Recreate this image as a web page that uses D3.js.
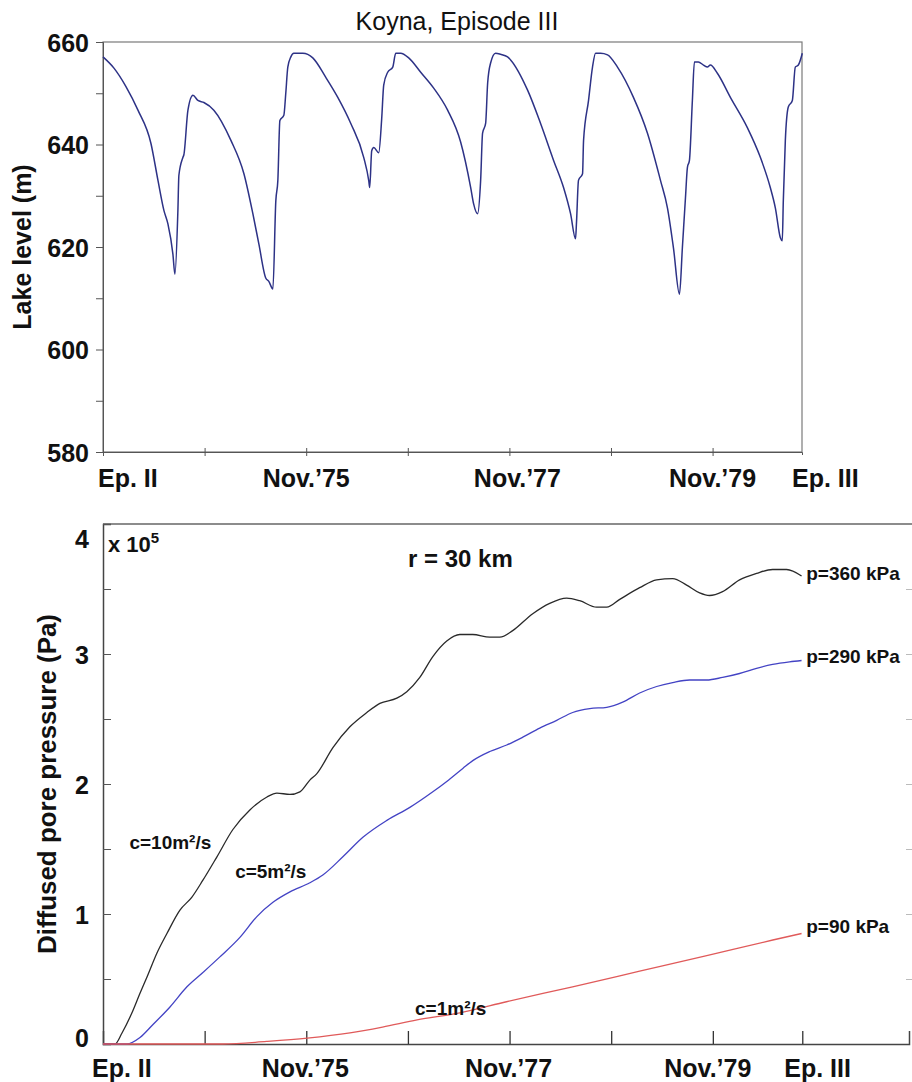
<!DOCTYPE html>
<html>
<head>
<meta charset="utf-8">
<script src="https://cdn.jsdelivr.net/npm/d3@7"></script>
<style>
  body { margin: 0; background: #fff; }
  text { font-family: "Liberation Sans", Arial, sans-serif; fill: #111; }
</style>
</head>
<body>
<svg id="chart" width="912" height="1082"></svg>
<script>
// time is in years after Ep. II; lake level in m; pore pressure in 10^5 Pa
const lakeLevel = [
  [0, 657.1], [0.108, 654.9], [0.226, 651.3], [0.344, 646.7], [0.472, 640.2], [0.541, 633.0],
  [0.600, 627.1], [0.639, 624.5], [0.688, 618.6], [0.708, 614.7], [0.737, 627.0], [0.747, 634.0],
  [0.787, 637.5], [0.796, 638.0], [0.836, 646.7], [0.885, 649.6], [0.934, 648.6], [0.993, 648.2],
  [1.091, 646.7], [1.259, 640.8], [1.387, 634.3], [1.475, 626.5], [1.534, 620.6], [1.603, 613.9],
  [1.632, 613.3], [1.672, 611.8], [1.701, 629.0], [1.721, 633.0], [1.741, 644.7], [1.780, 645.7],
  [1.799, 650.0], [1.819, 655.1], [1.849, 657.1], [1.878, 657.8], [1.967, 657.8], [2.065, 656.9],
  [2.193, 653.1], [2.311, 649.2], [2.439, 644.1], [2.566, 637.5], [2.616, 632.9], [2.625, 631.6],
  [2.645, 638.8], [2.665, 639.4], [2.714, 638.4], [2.743, 645.0], [2.763, 651.6], [2.802, 654.1],
  [2.852, 655.1], [2.881, 657.8], [2.930, 657.8], [3.009, 656.9], [3.127, 654.1], [3.255, 651.0],
  [3.392, 646.7], [3.520, 640.5], [3.619, 631.6], [3.648, 628.4], [3.687, 626.5], [3.717, 633.0],
  [3.736, 642.2], [3.766, 644.1], [3.786, 652.0], [3.815, 655.9], [3.864, 657.8], [3.913, 657.6],
  [3.982, 657.1], [4.012, 656.5], [4.179, 650.6], [4.307, 644.1], [4.435, 636.9], [4.533, 631.6],
  [4.602, 626.5], [4.651, 621.6], [4.661, 625.0], [4.680, 633.0], [4.720, 634.3], [4.730, 640.8],
  [4.779, 648.6], [4.818, 655.1], [4.848, 657.8], [4.897, 657.8], [4.966, 657.5], [5.064, 655.1],
  [5.221, 649.2], [5.359, 642.2], [5.487, 633.0], [5.556, 627.6], [5.615, 619.8], [5.674, 610.8],
  [5.703, 620.0], [5.733, 629.6], [5.752, 635.5], [5.772, 636.9], [5.801, 648.6], [5.821, 656.1],
  [5.860, 656.1], [5.910, 655.5], [5.949, 655.1], [5.978, 655.5], [6.047, 653.9], [6.175, 649.2],
  [6.342, 643.3], [6.470, 637.5], [6.568, 631.6], [6.618, 627.6], [6.667, 621.8], [6.686, 621.2],
  [6.696, 629.0], [6.716, 640.8], [6.745, 647.3], [6.785, 648.6], [6.814, 655.1], [6.844, 655.5],
  [6.883, 657.8]
];

const pressureC10 = [
  [0, 0], [0.118, 0], [0.187, 0.085], [0.285, 0.24], [0.364, 0.39], [0.433, 0.515], [0.531, 0.70],
  [0.629, 0.85], [0.757, 1.03], [0.875, 1.13], [0.983, 1.26], [1.121, 1.44], [1.278, 1.65],
  [1.445, 1.80], [1.613, 1.90], [1.711, 1.93], [1.839, 1.92], [1.937, 1.94], [2.035, 2.03],
  [2.104, 2.08], [2.262, 2.28], [2.429, 2.44], [2.596, 2.55], [2.724, 2.62], [2.891, 2.66],
  [2.989, 2.71], [3.117, 2.82], [3.245, 2.98], [3.382, 3.10], [3.510, 3.15], [3.638, 3.15],
  [3.805, 3.13], [3.904, 3.13], [4.031, 3.18], [4.228, 3.31], [4.395, 3.39], [4.562, 3.43],
  [4.690, 3.41], [4.857, 3.36], [4.956, 3.36], [5.084, 3.42], [5.280, 3.51], [5.447, 3.57],
  [5.605, 3.58], [5.742, 3.53], [5.870, 3.47], [5.968, 3.45], [6.096, 3.48], [6.263, 3.57],
  [6.430, 3.62], [6.588, 3.65], [6.726, 3.65], [6.873, 3.60]
];

const pressureC5 = [
  [0, 0], [0.236, 0], [0.364, 0.05], [0.492, 0.15], [0.659, 0.285], [0.826, 0.44], [0.983, 0.55],
  [1.150, 0.67], [1.347, 0.82], [1.514, 0.98], [1.672, 1.09], [1.839, 1.17], [2.035, 1.24],
  [2.163, 1.30], [2.360, 1.44], [2.557, 1.59], [2.793, 1.72], [3.019, 1.82], [3.245, 1.94],
  [3.382, 2.02], [3.540, 2.12], [3.638, 2.18], [3.805, 2.25], [3.972, 2.30], [4.130, 2.36],
  [4.297, 2.43], [4.464, 2.49], [4.621, 2.55], [4.789, 2.58], [4.956, 2.59], [5.113, 2.63],
  [5.280, 2.70], [5.447, 2.75], [5.605, 2.78], [5.772, 2.80], [5.939, 2.80], [6.096, 2.82],
  [6.263, 2.85], [6.430, 2.89], [6.588, 2.92], [6.755, 2.94], [6.873, 2.95]
];

const pressureC1 = [
  [0, 0], [1.18, 0], [1.61, 0.02], [2.01, 0.045], [2.43, 0.085], [2.75, 0.13], [3.09, 0.185],
  [3.51, 0.24], [3.97, 0.325], [4.62, 0.44], [5.28, 0.56], [5.94, 0.68], [6.59, 0.80], [6.873, 0.85]
];

const yearTicks = [0, 1, 2, 3, 4, 5, 6];
const epEnd = 6.88;
const xLabels = ["Ep. II", "Nov.\u201975", "Nov.\u201977", "Nov.\u201979", "Ep. III"];
const xLabelYears = [0, 2, 4, 6, epEnd];
const lakeTicks = [580, 600, 620, 640, 660];
const pressureTicks = [0, 1, 2, 3, 4];
const curveNames = ["c=10m\u00b2/s", "c=5m\u00b2/s", "c=1m\u00b2/s"];
const endNames = ["p=360 kPa", "p=290 kPa", "p=90 kPa"];

const svg = d3.select("#chart");
const font = '"Liberation Sans", Arial, sans-serif';

// ---------- top panel: lake level ----------
const xTop = d3.scaleLinear().domain([0, epEnd]).range([103, 802]);
const yTop = d3.scaleLinear().domain([580, 660]).range([452, 42]);

svg.append("text")
  .attr("x", 457).attr("y", 30)
  .attr("text-anchor", "middle")
  .style("font-size", "25px")
  .text("Koyna, Episode III");

// frame
svg.append("rect")
  .attr("x", xTop(0)).attr("y", yTop(660))
  .attr("width", xTop(epEnd) - xTop(0)).attr("height", yTop(580) - yTop(660))
  .attr("fill", "none").attr("stroke", "#7a7a7a").attr("stroke-width", 1.2);

const yAxisTop = svg.append("g")
  .attr("transform", `translate(${xTop(0)},0)`)
  .call(d3.axisLeft(yTop).tickValues(d3.range(580, 661, 10)).tickSize(7)
    .tickFormat(d => lakeTicks.includes(d) ? d : ""));
yAxisTop.select(".domain").attr("stroke", "#555");
yAxisTop.selectAll(".tick line").attr("stroke", "#555");
yAxisTop.selectAll(".tick text")
  .attr("x", -14).attr("dy", "0.36em")
  .style("font-size", "25px").style("font-weight", "bold").style("font-family", font).attr("fill", "#111");

const xAxisTop = svg.append("g")
  .attr("transform", `translate(0,${yTop(580)})`)
  .call(d3.axisBottom(xTop).tickValues(yearTicks).tickSize(3).tickFormat(""));
xAxisTop.select(".domain").attr("stroke", "#555");
xAxisTop.selectAll(".tick line").attr("y1", -4).attr("y2", 4).attr("stroke", "#555");

svg.append("g").selectAll("text")
  .data(xLabels)
  .join("text")
  .attr("x", (d, i) => i === 0 ? xTop(0) - 5 : (i === 4 ? xTop(epEnd) - 10 : xTop(xLabelYears[i]) + (i === 2 ? 8 : 0)))
  .attr("y", 487)
  .attr("text-anchor", (d, i) => (i === 0 || i === 4) ? "start" : "middle")
  .style("font-size", "25px").style("font-weight", "bold")
  .text(d => d);

svg.append("text")
  .attr("transform", `translate(31,${(yTop(580) + yTop(660)) / 2}) rotate(-90)`)
  .attr("text-anchor", "middle")
  .style("font-size", "25px").style("font-weight", "bold")
  .text("Lake level (m)");

svg.append("path")
  .datum(lakeLevel)
  .attr("fill", "none")
  .attr("stroke", "#2d3286")
  .attr("stroke-width", 1.5)
  .attr("stroke-linejoin", "round")
  .attr("d", d3.line().curve(d3.curveMonotoneX).x(d => xTop(d[0])).y(d => yTop(d[1])));

// ---------- bottom panel: diffused pore pressure ----------
const xBot = d3.scaleLinear().domain([0, 7.93]).range([103, 909]);
const yBot = d3.scaleLinear().domain([0, 4]).range([1044, 524]);

svg.append("line")
  .attr("x1", xBot(0)).attr("x2", 912).attr("y1", yBot(4)).attr("y2", yBot(4))
  .attr("stroke", "#666").attr("stroke-width", 1.6);

const yAxisBot = svg.append("g")
  .attr("transform", `translate(${xBot(0)},0)`)
  .call(d3.axisLeft(yBot).tickValues(d3.range(0, 4.01, 0.5)).tickSize(-8)
    .tickFormat(d => pressureTicks.includes(d) ? d : ""));
yAxisBot.select(".domain").attr("stroke", "#444").attr("stroke-width", 1.5);
yAxisBot.selectAll(".tick line").attr("stroke", "#555");
yAxisBot.selectAll(".tick text")
  .attr("x", -14)
  .attr("dy", d => d === 4 ? "0.95em" : (d === 0 ? "0.1em" : "0.36em"))
  .style("font-size", "25px").style("font-weight", "bold").style("font-family", font).attr("fill", "#111");

// faint ticks of the cropped right-hand axis
svg.append("g")
  .attr("transform", `translate(913,0)`)
  .call(d3.axisRight(yBot).tickValues(d3.range(0.5, 4, 0.5)).tickSize(-7).tickFormat(""))
  .call(g => g.select(".domain").remove())
  .selectAll(".tick line").attr("stroke", "#bbb");

const xAxisBot = svg.append("g")
  .attr("transform", `translate(0,${yBot(0)})`)
  .call(d3.axisBottom(xBot).tickValues([1, 2, 3, 4, 5, 6, epEnd]).tickSize(-13).tickFormat(""));
xAxisBot.select(".domain").attr("stroke", "#444").attr("stroke-width", 1.5);
xAxisBot.selectAll(".tick line").attr("stroke", "#333").attr("stroke-width", 1.3);

svg.append("g").selectAll("text")
  .data(xLabels)
  .join("text")
  .attr("x", (d, i) => i === 0 ? xBot(0) - 11 : (i === 4 ? xBot(epEnd) - 18 : xBot(xLabelYears[i]) - (i === 3 ? 5 : 1)))
  .attr("y", 1077)
  .attr("text-anchor", (d, i) => (i === 0 || i === 4) ? "start" : "middle")
  .style("font-size", "25px").style("font-weight", "bold")
  .text(d => d);

svg.append("text")
  .attr("transform", `translate(56,${(yBot(0) + yBot(4)) / 2}) rotate(-90)`)
  .attr("text-anchor", "middle")
  .attr("textLength", 340)
  .attr("lengthAdjust", "spacingAndGlyphs")
  .style("font-size", "25px").style("font-weight", "bold")
  .text("Diffused pore pressure (Pa)");

const exp = svg.append("text")
  .attr("x", 108).attr("y", 552)
  .style("font-size", "22px").style("font-weight", "bold");
exp.append("tspan").text("x 10");
exp.append("tspan").attr("dy", -9).style("font-size", "15px").text("5");

svg.append("text")
  .attr("x", 408).attr("y", 567)
  .style("font-size", "24px").style("font-weight", "bold")
  .text("r = 30 km");

const pLine = d3.line().curve(d3.curveMonotoneX).x(d => xBot(d[0])).y(d => yBot(d[1]));
const series = [
  { data: pressureC10, color: "#2a2a2a" },
  { data: pressureC5, color: "#4343c4" },
  { data: pressureC1, color: "#e05a5a" }
];
svg.append("g").selectAll("path")
  .data(series)
  .join("path")
  .attr("fill", "none")
  .attr("stroke", d => d.color)
  .attr("stroke-width", 1.3)
  .attr("d", d => pLine(d.data));

// curve labels
const curveLabelAt = [[0.26, 1.5], [1.3, 1.28], [3.07, 0.22]];
svg.append("g").selectAll("text")
  .data(curveNames)
  .join("text")
  .attr("x", (d, i) => xBot(curveLabelAt[i][0]))
  .attr("y", (d, i) => yBot(curveLabelAt[i][1]))
  .style("font-size", "19px").style("font-weight", "bold")
  .text(d => d);

const endVals = [pressureC10, pressureC5, pressureC1].map(s => s[s.length - 1][1]);
const endDy = [4, 2, -1];
svg.append("g").selectAll("text")
  .data(endNames)
  .join("text")
  .attr("x", xBot(epEnd) + 4)
  .attr("y", (d, i) => yBot(endVals[i]) + endDy[i])
  .style("font-size", "19px").style("font-weight", "bold")
  .text(d => d);
</script>
</body>
</html>
